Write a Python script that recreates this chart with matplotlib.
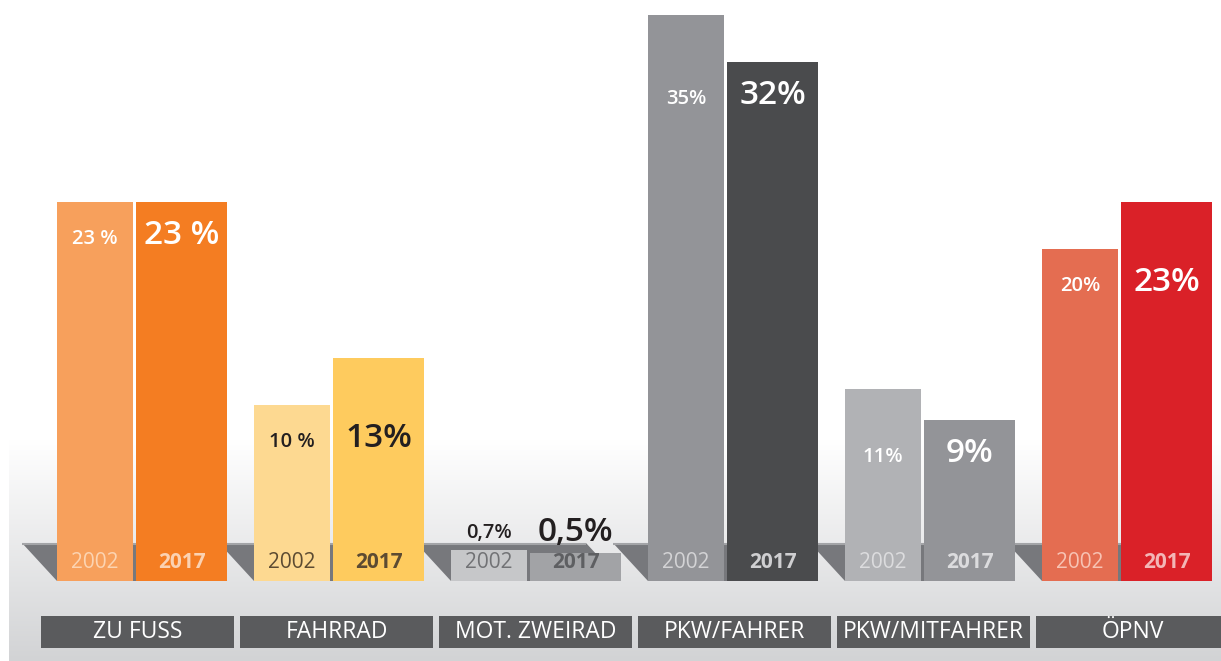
import numpy as np
import matplotlib
matplotlib.use("Agg")
import matplotlib.pyplot as plt
from matplotlib.patches import Polygon, Rectangle
from matplotlib.colors import LinearSegmentedColormap

# ---------------- data ----------------
categories = ["ZU FUSS", "FAHRRAD", "MOT. ZWEIRAD", "PKW/FAHRER", "PKW/MITFAHRER", "ÖPNV"]
years = ["2002", "2017"]
share_2002 = [23, 10, 0.7, 35, 11, 20]
share_2017 = [23, 13, 0.5, 32, 9, 23]
labels_2002 = ["23 %", "10 %", "0,7%", "35%", "11%", "20%"]
labels_2017 = ["23 %", "13%", "0,5%", "32%", "9%", "23%"]

# ---------------- styles ----------------
col_2002 = ["#f7a05c", "#fdd991", "#c6c7c9", "#939498", "#b1b2b5", "#e46d51"]
col_2017 = ["#f47d22", "#fecb5e", "#a2a3a6", "#4a4b4d", "#939498", "#da2128"]
year_col_2002 = ["#fcd4b2", "#5c4b32", "#717275", "#d3d3d5", "#dcdcde", "#f7c3b4"]
year_col_2017 = ["#fbd2b2", "#5c4b32", "#5e5f62", "#cfcfd1", "#dcdcde", "#f3b6b6"]
value_col = ["white", "#231f20", "#231f20", "white", "white", "white"]
FONT = ["Open Sans", "DejaVu Sans"]

W, H = 1221, 661
fig = plt.figure(figsize=(W / 100, H / 100), dpi=100)
ax = fig.add_axes([0, 0, 1, 1])

# value axis: bars start slightly below 0 (footer for year labels)
base = -1.3
k = 15.6          # pixels per percentage point
y_base_px = 581   # pixel row of bar bottoms


def v(py):
    """pixel row -> value-axis coordinate"""
    return base + (y_base_px - py) / k


ax.set_xlim(0, W)
ax.set_ylim(v(H), v(0))
ax.axis("off")

# background gradient panel
cmap = LinearSegmentedColormap.from_list("bg", ["#ffffff", "#d2d3d5"])
grad = np.linspace(0, 1, 256).reshape(-1, 1)
ax.imshow(grad, cmap=cmap, aspect="auto", extent=(9, W, v(H), v(440)),
          origin="upper", zorder=0)

pitch = 197
x0 = 57
w02, gap, w17 = 76, 3, 91
slant = 35

for i, cat in enumerate(categories):
    L = x0 + i * pitch
    R = L + w02 + gap + w17
    # shelf (3D floor)
    shelf = Polygon([(L - slant, v(543)), (R - slant, v(543)), (R, v(581)), (L, v(581))],
                    closed=True, facecolor="#77787c", edgecolor="none", zorder=1)
    ax.add_patch(shelf)
    ax.plot([L - slant, R - slant], [v(543.5), v(543.5)], color="#a3a4a7", lw=1.5,
            zorder=1.1, solid_capstyle="butt")

    # bars
    x02 = L
    x17 = L + w02 + gap
    ax.bar(x02, share_2002[i] - base, bottom=base, width=w02, align="edge",
           color=col_2002[i], zorder=2, linewidth=0)
    ax.bar(x17, share_2017[i] - base, bottom=base, width=w17, align="edge",
           color=col_2017[i], zorder=2, linewidth=0)

    # year labels inside bars
    ax.text(x02 + w02 / 2, v(563), years[0], ha="center", va="center",
            fontsize=15, family=FONT, color=year_col_2002[i], zorder=3)
    ax.text(x17 + w17 / 2, v(563), years[1], ha="center", va="center",
            fontsize=15, family=FONT, weight="bold", color=year_col_2017[i], zorder=3)

    # value labels: common baseline inside the lower bar of the pair
    low = min(share_2002[i], share_2017[i])
    for xx, ww, val, lab, fs in [(x02, w02, share_2002[i], labels_2002[i], 14.5),
                                 (x17, w17, share_2017[i], labels_2017[i], 24)]:
        if low < 3:
            yy = val + 12 / k
            c = "#231f20"
        else:
            yy = low - 42 / k
            c = value_col[i]
        ax.text(xx + ww / 2, yy, lab, ha="center", va="baseline", fontsize=fs,
                family=FONT, weight="semibold", color=c, zorder=3)

    # category label box
    bx = 41 + i * 199
    ax.add_patch(Rectangle((bx, v(648)), 193, v(616) - v(648),
                           facecolor="#5a5b5d", edgecolor="none", zorder=2))
    ax.text(bx + 193 / 2, v(632.5), cat, ha="center", va="center", fontsize=16.5,
            family=FONT, color="white", zorder=3)

fig.savefig("out.png", dpi=100)
